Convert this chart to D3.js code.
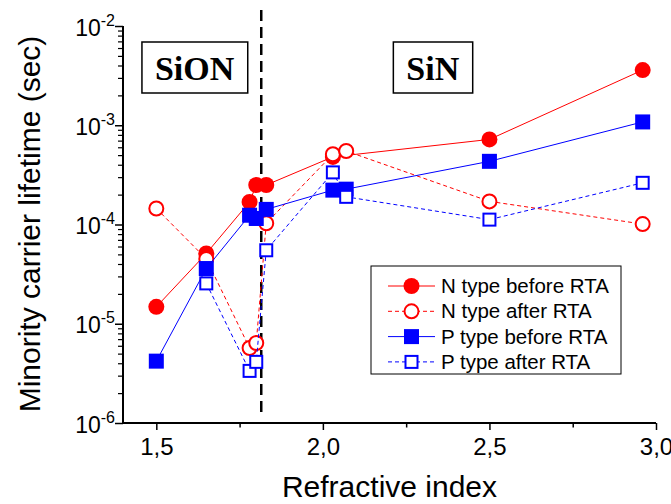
<!DOCTYPE html>
<html>
<head>
<meta charset="utf-8">
<script src="https://cdn.jsdelivr.net/npm/d3@7"></script>
<style>
  body { margin: 0; background: #fff; }
  svg { display: block; }
  text { font-family: "Liberation Sans", Arial, sans-serif; }
</style>
</head>
<body>
<svg id="chart" width="671" height="504"></svg>
<script>
// refractive index vs minority carrier lifetime (sec)
const nBefore = [
  [1.5, 1.48e-5], [1.65, 5.1e-5], [1.78, 1.69e-4], [1.80, 2.5e-4],
  [1.83, 2.5e-4], [2.03, 4.8e-4], [2.5, 7.2e-4], [2.96, 3.6e-3]
];
const nAfter = [
  [1.5, 1.45e-4], [1.65, 4.5e-5], [1.78, 5.7e-6], [1.80, 6.4e-6],
  [1.83, 1.03e-4], [2.03, 5.1e-4], [2.07, 5.5e-4], [2.5, 1.71e-4], [2.96, 1.01e-4]
];
const pBefore = [
  [1.5, 4.2e-6], [1.65, 3.6e-5], [1.78, 1.24e-4], [1.80, 1.15e-4],
  [1.83, 1.42e-4], [2.03, 2.22e-4], [2.07, 2.27e-4], [2.5, 4.33e-4], [2.96, 1.08e-3]
];
const pAfter = [
  [1.65, 2.55e-5], [1.78, 3.35e-6], [1.80, 4.13e-6], [1.83, 5.5e-5],
  [2.03, 3.35e-4], [2.07, 1.9e-4], [2.5, 1.12e-4], [2.96, 2.63e-4]
];
const seriesNames = ['N type before RTA', 'N type after RTA', 'P type before RTA', 'P type after RTA'];
const xTicks = [1.5, 2.0, 2.5, 3.0];
const xMinorTicks = [1.75, 2.25, 2.75];
const yTicks = [1e-6, 1e-5, 1e-4, 1e-3, 1e-2];
const boundary = 1.815;
const regionLabels = [{ name: 'SiON', x: 1.615 }, { name: 'SiN', x: 2.33 }];

const svg = d3.select('#chart');

const x = d3.scaleLinear().domain([1.4, 3.0]).range([123, 656]);
const y = d3.scaleLog().domain([1e-6, 1e-2]).range([423, 26]);

const red = '#ff0000';
const blue = '#0000ff';

const styles = [
  { data: nBefore, color: red, dash: null, shape: 'circle', filled: true },
  { data: nAfter, color: red, dash: '4,3', shape: 'circle', filled: false },
  { data: pBefore, color: blue, dash: null, shape: 'square', filled: true },
  { data: pAfter, color: blue, dash: '4,3', shape: 'square', filled: false }
];

// minor y ticks (2..9 per decade)
const yMinor = [];
for (let e = -6; e < -2; e++) {
  for (let m = 2; m <= 9; m++) yMinor.push(m * Math.pow(10, e));
}

// x axis
svg.append('g').attr('transform', 'translate(0,423)')
  .call(d3.axisBottom(x).tickValues(xTicks).tickSize(7).tickFormat(d => d3.format('.1f')(d).replace('.', ',')))
  .call(g => g.select('.domain').attr('stroke-width', 2).attr('d', 'M123,0H656'))
  .call(g => g.selectAll('.tick line').attr('stroke-width', 1.5))
  .call(g => g.selectAll('.tick text').attr('y', 32).attr('dy', 0)
    .attr('font-size', 24).attr('fill', '#000')
    .style('font-family', '"Liberation Sans", Arial, sans-serif'));
svg.append('g').attr('transform', 'translate(0,423)')
  .call(d3.axisBottom(x).tickValues(xMinorTicks).tickSize(4.5).tickFormat(''))
  .call(g => g.select('.domain').remove())
  .call(g => g.selectAll('.tick line').attr('stroke-width', 1.5));

// y axis
svg.append('g').attr('transform', 'translate(123,0)')
  .call(d3.axisLeft(y).tickValues(yTicks).tickSize(8).tickFormat(''))
  .call(g => g.select('.domain').attr('stroke-width', 2).attr('d', 'M0,423V26'))
  .call(g => g.selectAll('.tick line').attr('stroke-width', 1.5));
svg.append('g').attr('transform', 'translate(123,0)')
  .call(d3.axisLeft(y).tickValues(yMinor).tickSize(5).tickFormat(''))
  .call(g => g.select('.domain').remove())
  .call(g => g.selectAll('.tick line').attr('stroke-width', 1.2));

const yLabels = svg.append('g').selectAll('text').data(yTicks).join('text')
  .attr('x', 115)
  .attr('y', d => y(d) + 9.5)
  .attr('text-anchor', 'end')
  .attr('fill', '#000');
yLabels.append('tspan').attr('font-size', 23).text('10');
yLabels.append('tspan').attr('font-size', 16).attr('dy', -10)
  .text(d => '-' + Math.round(-Math.log10(d)));

// axis titles
svg.append('text')
  .attr('x', 389.5).attr('y', 497)
  .attr('text-anchor', 'middle')
  .attr('font-size', 30)
  .text('Refractive index');
svg.append('text')
  .attr('transform', 'translate(40,224) rotate(-90)')
  .attr('text-anchor', 'middle')
  .attr('font-size', 30)
  .text('Minority carrier lifetime (sec)');

// boundary between SiON and SiN
svg.append('line')
  .attr('x1', x(boundary)).attr('x2', x(boundary))
  .attr('y1', 10).attr('y2', 413)
  .attr('stroke', '#000').attr('stroke-width', 2.5)
  .attr('stroke-dasharray', '11,6');

// region labels
regionLabels.forEach(r => {
  const g = svg.append('g');
  const box = g.append('rect');
  const t = g.append('text')
    .attr('x', x(r.x)).attr('y', 80)
    .attr('text-anchor', 'middle')
    .attr('font-size', 34)
    .attr('font-weight', 'bold')
    .style('font-family', '"Liberation Serif", "Times New Roman", serif')
    .text(r.name);
  const bb = t.node().getBBox();
  box.attr('x', bb.x - 13).attr('y', 42)
    .attr('width', bb.width + 26).attr('height', 51)
    .attr('fill', 'none').attr('stroke', '#000').attr('stroke-width', 1.5);
});

function drawMarker(g, s, cx, cy) {
  if (s.shape === 'circle') {
    g.append('circle').attr('cx', cx).attr('cy', cy)
      .attr('r', s.filled ? 8 : 7)
      .attr('fill', s.filled ? s.color : '#fff')
      .attr('stroke', s.color).attr('stroke-width', s.filled ? 0 : 2);
  } else {
    const a = s.filled ? 15 : 12;
    g.append('rect').attr('x', cx - a / 2).attr('y', cy - a / 2)
      .attr('width', a).attr('height', a)
      .attr('fill', s.filled ? s.color : '#fff')
      .attr('stroke', s.color).attr('stroke-width', s.filled ? 0 : 2);
  }
}

const line = d3.line().x(d => x(d[0])).y(d => y(d[1]));

styles.forEach(s => {
  const g = svg.append('g');
  g.append('path')
    .attr('d', line(s.data))
    .attr('fill', 'none')
    .attr('stroke', s.color)
    .attr('stroke-width', 1)
    .attr('stroke-dasharray', s.dash);
  s.data.forEach(d => drawMarker(g, s, x(d[0]), y(d[1])));
});

// legend
const legend = svg.append('g');
legend.append('rect')
  .attr('x', 371).attr('y', 266).attr('width', 250).attr('height', 108)
  .attr('fill', '#fff').attr('stroke', '#000').attr('stroke-width', 1);
styles.forEach((s, i) => {
  const ly = 286 + i * 25.3;
  legend.append('line')
    .attr('x1', 388).attr('x2', 435).attr('y1', ly).attr('y2', ly)
    .attr('stroke', s.color).attr('stroke-width', 1)
    .attr('stroke-dasharray', s.dash);
  drawMarker(legend, s, 411.5, ly);
  legend.append('text')
    .attr('x', 441).attr('y', ly + 7)
    .attr('font-size', 20.5)
    .text(seriesNames[i]);
});
</script>
</body>
</html>
